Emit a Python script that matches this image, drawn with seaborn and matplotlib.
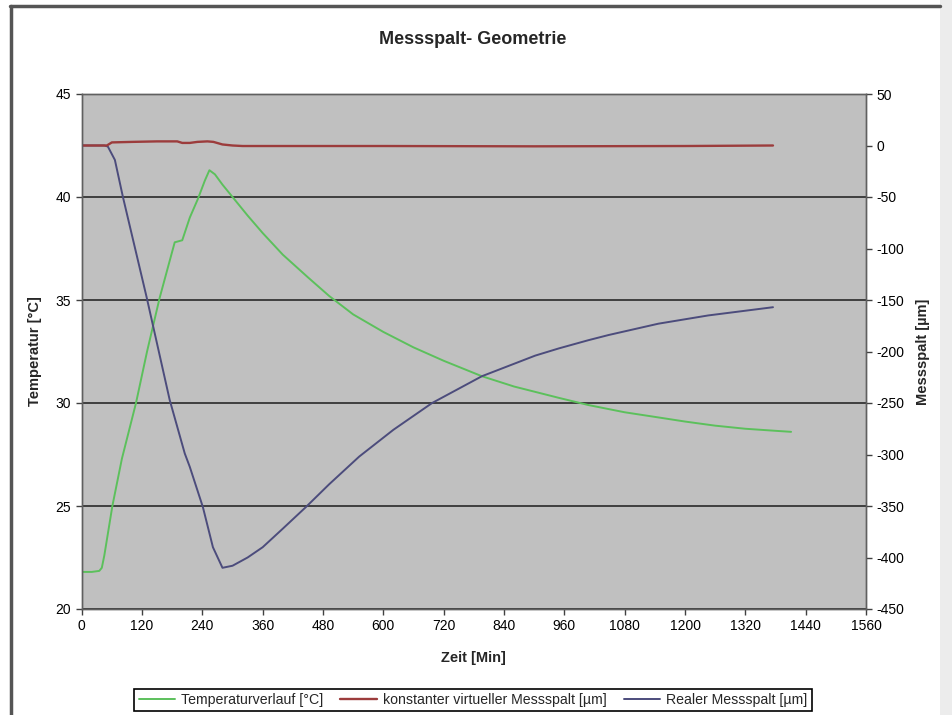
import pandas as pd
import matplotlib.pyplot as plt
import seaborn as sns
from matplotlib.lines import Line2D
from matplotlib.patches import Rectangle

sns.set_style("ticks")
plt.rcParams['font.family'] = ['Liberation Sans', 'DejaVu Sans']
plt.rcParams['axes.unicode_minus'] = False

# Temperaturverlauf (left axis)
temp_min = [0, 20, 35, 40, 45, 61, 80, 108, 130, 155, 175, 185, 200, 215, 231, 245, 254,
            265, 280, 300, 330, 360, 400, 450, 492, 540, 600, 660, 720, 796, 860,
            949, 1008, 1080, 1147, 1200, 1260, 1320, 1380, 1411]
temp_val = [21.8, 21.8, 21.85, 22.0, 22.6, 25.0, 27.3, 30.0, 32.5, 35.1, 36.9, 37.8, 37.9,
            39.0, 39.9, 40.8, 41.3, 41.1, 40.6, 40.0, 39.1, 38.25, 37.2, 36.1, 35.2, 34.3,
            33.45, 32.7, 32.05, 31.3, 30.8, 30.25, 29.9, 29.55, 29.3, 29.1, 28.9, 28.75, 28.65, 28.6]

# konstanter virtueller Messspalt (right axis)
virt_min = [0, 50, 60, 100, 150, 190, 200, 215, 230, 250, 262, 280, 300, 320, 600, 900, 1200, 1375]
virt_val = [0, 0, 3, 3.5, 4, 4, 2.5, 2.5, 3.5, 4, 3.5, 1, 0, -0.5, -0.5, -0.8, -0.5, 0]

# Realer Messspalt (right axis)
real_min = [0, 45, 52, 66, 82, 129, 175, 205, 215, 241, 261, 280, 300, 330, 360, 400, 446,
            492, 552, 620, 697, 796, 902, 949, 1008, 1048, 1147, 1246, 1375]
real_val = [0, 0, -1, -14, -50, -147, -247, -299, -312, -351, -390, -410, -408, -400, -390,
            -372, -351, -329, -302, -276, -250, -224, -204, -197, -189, -184, -173, -165, -157]

x_ticks = list(range(0, 1561, 120))
left_ticks = [20, 25, 30, 35, 40, 45]
right_ticks = list(range(-450, 51, 50))

green = '#5cc05c'
red = '#9c3c3c'
blue = '#4c4c7c'

fig = plt.figure(figsize=(9.52, 7.15), dpi=100)
fig.patch.set_facecolor('white')

# outer chart frame
fig.patches.append(Rectangle((940 / 952, 0), 12 / 952, 1, transform=fig.transFigure,
                             facecolor='#ececec', edgecolor='none', zorder=0))
fig.lines.append(Line2D([10 / 952, 940 / 952], [1 - 6 / 715, 1 - 6 / 715],
                        transform=fig.transFigure, color='#555555', lw=2.5))
fig.lines.append(Line2D([11 / 952, 11 / 952], [0, 1 - 6 / 715],
                        transform=fig.transFigure, color='#555555', lw=2.5))

ax = fig.add_axes([81.7 / 952, 1 - 609 / 715, (866 - 81.7) / 952, (609 - 94) / 715])
ax.set_facecolor('#c0c0c0')
ax2 = ax.twinx()

df_t = pd.DataFrame({'Zeit': temp_min, 'Temp': temp_val})
df_v = pd.DataFrame({'Zeit': virt_min, 'Spalt': virt_val})
df_r = pd.DataFrame({'Zeit': real_min, 'Spalt': real_val})

sns.lineplot(data=df_t, x='Zeit', y='Temp', ax=ax, color=green, lw=1.4, legend=False)
sns.lineplot(data=df_r, x='Zeit', y='Spalt', ax=ax2, color=blue, lw=1.4, legend=False)
sns.lineplot(data=df_v, x='Zeit', y='Spalt', ax=ax2, color=red, lw=1.7, legend=False)

ax.set_xlim(0, 1560)
ax.set_ylim(20, 45)
ax2.set_ylim(-450, 50)
ax.set_xticks(x_ticks)
ax.set_yticks(left_ticks)
ax2.set_yticks(right_ticks)

ax.yaxis.grid(True, color='#353535', lw=1.3)
ax.set_axisbelow(True)

for a in (ax, ax2):
    for s in a.spines.values():
        s.set_color('#606060')
        s.set_linewidth(1)
    a.tick_params(colors='#404040', labelcolor='black', labelsize=10, length=4, width=1)

ax.set_xlabel('Zeit [Min]', fontsize=10.5, fontweight='bold', labelpad=13)
ax.set_ylabel('Temperatur [°C]', fontsize=10.5, fontweight='bold', labelpad=10)
ax2.set_ylabel('Messspalt [µm]', fontsize=10.5, fontweight='bold', labelpad=8)

fig.text(473 / 952, 1 - 40 / 715, 'Messspalt- Geometrie', ha='center', va='center',
         fontsize=13, fontweight='bold')

handles = [Line2D([], [], color=green, lw=1.4),
           Line2D([], [], color=red, lw=1.7),
           Line2D([], [], color=blue, lw=1.4)]
labels = ['Temperaturverlauf [°C]', 'konstanter virtueller Messspalt [µm]', 'Realer Messspalt [µm]']
leg = fig.legend(handles, labels, loc='center', bbox_to_anchor=(473 / 952, 1 - 700 / 715),
                 ncol=3, fontsize=10.2, frameon=True, fancybox=False, framealpha=1,
                 edgecolor='black', handlelength=2.6, columnspacing=1.2, handletextpad=0.4,
                 borderpad=0.3)
leg.get_frame().set_linewidth(1.2)

fig.savefig('out.png', dpi=100)
